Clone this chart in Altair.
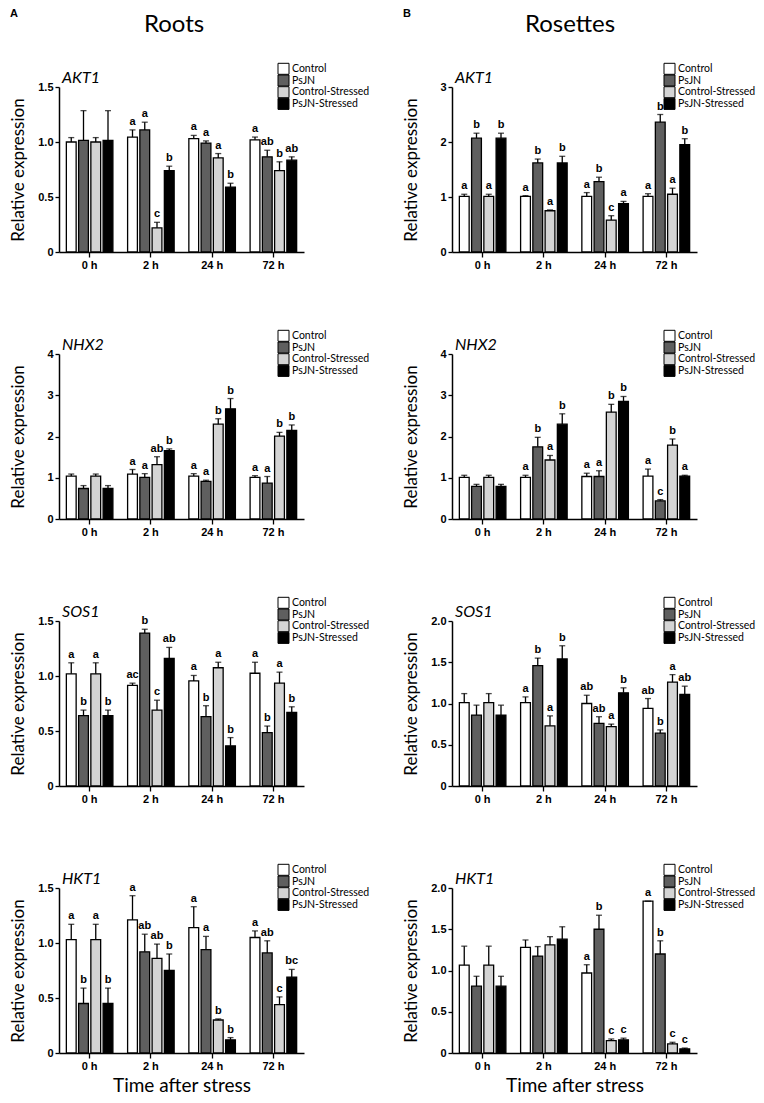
import altair as alt
import pandas as pd

times = ["0 h", "2 h", "24 h", "72 h"]
groups = ["Control", "PsJN", "Control-Stressed", "PsJN-Stressed"]
colors = ["#ffffff", "#5f5f5f", "#d4d4d4", "#000000"]

# values ordered: time (0h, 2h, 24h, 72h) x group (Control, PsJN, Control-Stressed, PsJN-Stressed)
roots_akt1_mean = [1.00, 1.015, 1.00, 1.015, 1.045, 1.11, 0.22, 0.74, 1.03, 0.99, 0.855, 0.59, 1.02, 0.865, 0.74, 0.835]
roots_akt1_err = [0.04, 0.27, 0.04, 0.27, 0.065, 0.07, 0.05, 0.04, 0.03, 0.02, 0.04, 0.035, 0.025, 0.06, 0.08, 0.03]
roots_akt1_sig = ["", "", "", "", "a", "a", "c", "b", "a", "a", "a", "b", "a", "ab", "b", "ab"]

rosettes_akt1_mean = [1.01, 2.07, 1.01, 2.07, 1.01, 1.62, 0.75, 1.62, 1.01, 1.28, 0.58, 0.88, 1.01, 2.36, 1.05, 1.95]
rosettes_akt1_err = [0.04, 0.09, 0.04, 0.09, 0.015, 0.07, 0.015, 0.12, 0.07, 0.08, 0.08, 0.04, 0.05, 0.14, 0.11, 0.11]
rosettes_akt1_sig = ["a", "b", "a", "b", "a", "b", "a", "b", "a", "b", "c", "a", "a", "b", "a", "b"]

roots_nhx2_mean = [1.04, 0.74, 1.04, 0.74, 1.09, 1.01, 1.32, 1.66, 1.04, 0.91, 2.30, 2.67, 1.01, 0.87, 2.01, 2.15]
roots_nhx2_err = [0.05, 0.07, 0.05, 0.07, 0.11, 0.09, 0.19, 0.04, 0.06, 0.03, 0.13, 0.25, 0.04, 0.16, 0.09, 0.13]
roots_nhx2_sig = ["", "", "", "", "a", "a", "ab", "b", "a", "a", "b", "b", "a", "a", "b", "b"]

rosettes_nhx2_mean = [1.01, 0.79, 1.01, 0.79, 1.01, 1.75, 1.43, 2.30, 1.03, 1.03, 2.59, 2.85, 1.04, 0.44, 1.79, 1.04]
rosettes_nhx2_err = [0.05, 0.05, 0.05, 0.05, 0.05, 0.23, 0.11, 0.25, 0.08, 0.14, 0.19, 0.12, 0.17, 0.03, 0.15, 0.02]
rosettes_nhx2_sig = ["", "", "", "", "a", "b", "a", "b", "a", "a", "b", "b", "a", "c", "b", "a"]

roots_sos1_mean = [1.02, 0.64, 1.02, 0.64, 0.915, 1.39, 0.69, 1.16, 0.955, 0.63, 1.075, 0.365, 1.025, 0.485, 0.935, 0.67]
roots_sos1_err = [0.10, 0.05, 0.10, 0.05, 0.02, 0.035, 0.09, 0.10, 0.05, 0.10, 0.05, 0.075, 0.10, 0.06, 0.10, 0.05]
roots_sos1_sig = ["a", "b", "a", "b", "ac", "b", "c", "ab", "a", "b", "a", "b", "a", "b", "a", "b"]

rosettes_sos1_mean = [1.01, 0.86, 1.01, 0.86, 1.01, 1.46, 0.73, 1.54, 1.00, 0.76, 0.72, 1.13, 0.94, 0.64, 1.26, 1.11]
rosettes_sos1_err = [0.11, 0.12, 0.11, 0.12, 0.07, 0.09, 0.12, 0.16, 0.10, 0.08, 0.03, 0.06, 0.12, 0.04, 0.09, 0.10]
rosettes_sos1_sig = ["", "", "", "", "a", "b", "a", "b", "ab", "ab", "a", "b", "ab", "b", "a", "ab"]

roots_hkt1_mean = [1.03, 0.45, 1.03, 0.45, 1.21, 0.92, 0.86, 0.75, 1.14, 0.94, 0.30, 0.12, 1.05, 0.91, 0.44, 0.69]
roots_hkt1_err = [0.14, 0.14, 0.14, 0.14, 0.22, 0.16, 0.13, 0.15, 0.19, 0.12, 0.01, 0.02, 0.06, 0.11, 0.07, 0.07]
roots_hkt1_sig = ["a", "b", "a", "b", "a", "ab", "ab", "b", "a", "a", "b", "b", "a", "ab", "c", "bc"]

rosettes_hkt1_mean = [1.065, 0.81, 1.065, 0.81, 1.28, 1.175, 1.31, 1.38, 0.97, 1.50, 0.15, 0.16, 1.84, 1.20, 0.11, 0.05]
rosettes_hkt1_err = [0.23, 0.12, 0.23, 0.12, 0.09, 0.115, 0.10, 0.15, 0.10, 0.17, 0.02, 0.02, 0.0, 0.16, 0.02, 0.01]
rosettes_hkt1_sig = ["", "", "", "", "", "", "", "", "a", "b", "c", "c", "a", "b", "c", "c"]

W, H = 245, 165
LABEL_FONT = "Liberation Sans"
TEXT_FONT = "Lato"
color_scale = alt.Scale(domain=groups, range=colors)


def panel(gene, mean, err, sig, domain, ticks, decimals, legend_x, heads=None, bottom=False):
    rows = []
    for i, t in enumerate(times):
        for j, g in enumerate(groups):
            k = i * 4 + j
            rows.append({"time": t, "group": g, "mean": mean[k], "err": err[k],
                         "top": mean[k] + err[k], "sig": sig[k]})
    df = pd.DataFrame(rows)
    if decimals:
        lexpr = "datum.value == 0 ? '0' : format(datum.value, '.1f')"
    else:
        lexpr = "format(datum.value, 'd')"
    xaxis = alt.Axis(
        title="Time after stress" if bottom else None,
        labelAngle=0, labelFont=LABEL_FONT, labelFontWeight="bold", labelFontSize=11,
        labelColor="black", labelPadding=2, tickSize=5, tickWidth=1.3, tickColor="black",
        domainColor="black", domainWidth=1.5, titleFont=TEXT_FONT, titleFontSize=19,
        titleFontWeight="normal", titleColor="black", titlePadding=5,
    )
    base = alt.Chart(df).encode(
        x=alt.X("time:N", sort=times, scale=alt.Scale(paddingInner=0.2, paddingOuter=0.1), axis=xaxis),
        xOffset=alt.XOffset("group:N", sort=groups, scale=alt.Scale(paddingInner=0.2, paddingOuter=0.1)),
    )
    yaxis = alt.Axis(
        values=ticks, labelExpr=lexpr, title="Relative expression", titleX=-49, titleY=H / 2,
        titleAngle=-90, titleAlign="center", titleBaseline="top", titleFont=TEXT_FONT,
        titleFontSize=17, titleFontWeight="normal", titleColor="black",
        labelFont=LABEL_FONT, labelFontWeight="bold", labelFontSize=11, labelColor="black",
        labelPadding=2, tickSize=4, tickWidth=1.3, tickColor="black", domainColor="black",
        domainWidth=1.5, grid=False,
    )
    yscale = alt.Scale(domain=domain, nice=False, zero=True)
    bars = base.mark_bar(stroke="black", strokeWidth=1.3).encode(
        y=alt.Y("mean:Q", scale=yscale, axis=yaxis),
        color=alt.Color("group:N", sort=groups, scale=color_scale, legend=None),
    )
    rule = base.mark_rule(color="black", strokeWidth=1.3).encode(y="mean:Q", y2="top:Q")
    cap = base.mark_tick(color="black", thickness=1.3, size=6, orient="horizontal").encode(y="top:Q")
    letters = base.mark_text(
        baseline="bottom", dy=-3, font=LABEL_FONT, fontWeight="bold", fontSize=11, color="black"
    ).encode(y="top:Q", text="sig:N")
    data_layer = alt.layer(bars, rule, cap, letters)

    # per-panel legend (square swatches + labels)
    leg_df = pd.DataFrame({"group": groups})
    leg_y = alt.Y("group:N", sort=groups, axis=None,
                  scale=alt.Scale(domain=groups, range=[-18.2, -18.2 + 3 * 11.7], padding=0))
    swatches = alt.Chart(leg_df).mark_square(size=121, stroke="black", strokeWidth=1, opacity=1).encode(
        x=alt.value(legend_x + 5.5), y=leg_y,
        color=alt.Color("group:N", sort=groups, scale=color_scale, legend=None),
    )
    leg_text = alt.Chart(leg_df).mark_text(
        align="left", baseline="middle", font=TEXT_FONT, fontSize=10.5, color="black"
    ).encode(x=alt.value(legend_x + 14), y=leg_y, text="group:N")
    legend_layer = alt.layer(swatches, leg_text)

    title = alt.Chart(pd.DataFrame({"gene": [gene]})).mark_text(
        align="left", baseline="alphabetic", font=TEXT_FONT, fontStyle="italic",
        fontSize=16, color="black"
    ).encode(x=alt.value(3), y=alt.value(-4), text="gene:N")
    layers = [data_layer, legend_layer, title]
    if heads is not None:
        letter, name, name_x = heads
        layers.append(
            alt.Chart(pd.DataFrame({"t": [letter]})).mark_text(
                align="left", baseline="alphabetic", font=LABEL_FONT, fontWeight="bold",
                fontSize=11, color="black"
            ).encode(x=alt.value(-49), y=alt.value(-69.7), text="t:N")
        )
        layers.append(
            alt.Chart(pd.DataFrame({"t": [name]})).mark_text(
                align="center", baseline="alphabetic", font=TEXT_FONT, fontSize=24,
                color="black"
            ).encode(x=alt.value(name_x), y=alt.value(-55), text="t:N")
        )
    return alt.layer(*layers).resolve_scale(y="independent").properties(width=W, height=H)


panels = [
    panel("AKT1", roots_akt1_mean, roots_akt1_err, roots_akt1_sig, [0, 1.5], [0, 0.5, 1, 1.5], True, 219,
          heads=("A", "Roots", 115)),
    panel("AKT1", rosettes_akt1_mean, rosettes_akt1_err, rosettes_akt1_sig, [0, 3], [0, 1, 2, 3], False, 212,
          heads=("B", "Rosettes", 118)),
    panel("NHX2", roots_nhx2_mean, roots_nhx2_err, roots_nhx2_sig, [0, 4], [0, 1, 2, 3, 4], False, 219),
    panel("NHX2", rosettes_nhx2_mean, rosettes_nhx2_err, rosettes_nhx2_sig, [0, 4], [0, 1, 2, 3, 4], False, 212),
    panel("SOS1", roots_sos1_mean, roots_sos1_err, roots_sos1_sig, [0, 1.5], [0, 0.5, 1, 1.5], True, 219),
    panel("SOS1", rosettes_sos1_mean, rosettes_sos1_err, rosettes_sos1_sig, [0, 2], [0, 0.5, 1, 1.5, 2], True, 212),
    panel("HKT1", roots_hkt1_mean, roots_hkt1_err, roots_hkt1_sig, [0, 1.5], [0, 0.5, 1, 1.5], True, 219,
          bottom=True),
    panel("HKT1", rosettes_hkt1_mean, rosettes_hkt1_err, rosettes_hkt1_sig, [0, 2], [0, 0.5, 1, 1.5, 2], True, 212,
          bottom=True),
]

chart = alt.concat(
    *panels, columns=2, spacing={"row": 102, "column": 148}, bounds="flush", align="all"
).resolve_scale(y="independent").configure_view(
    stroke=None
).properties(
    padding={"left": 0, "top": 0, "right": 0, "bottom": 0}, background="white"
)

chart.save("out.html", embed_options={"renderer": "svg", "actions": False})
